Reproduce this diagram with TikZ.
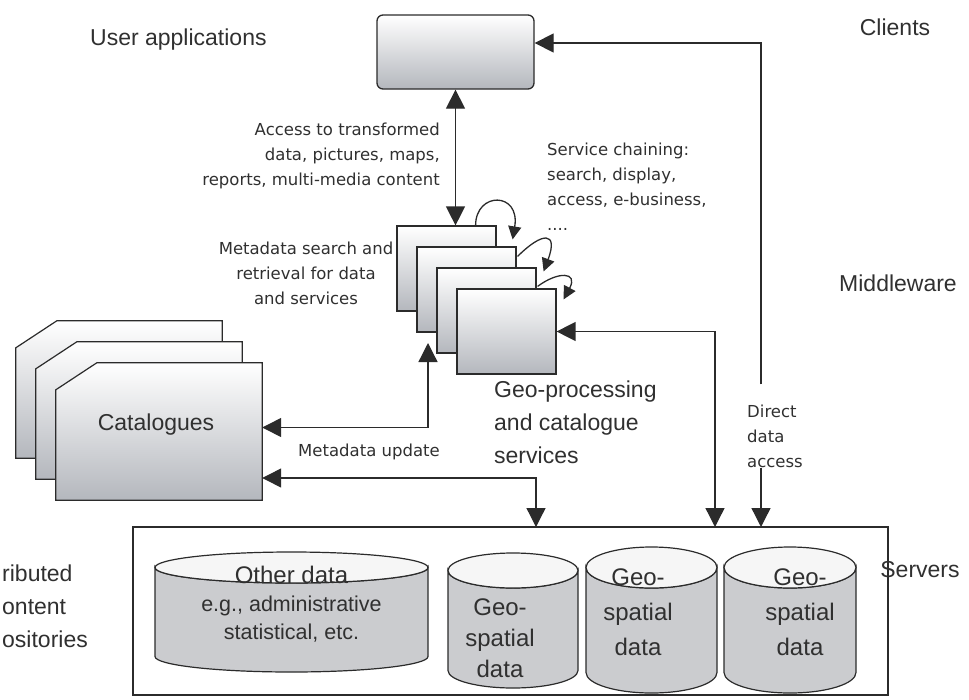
\documentclass[tikz,border=0pt]{standalone}
\usepackage{fontspec}
\setmainfont{Liberation Sans}
\newfontfamily\notefont{DejaVu Sans}
\usetikzlibrary{arrows.meta,positioning}

\definecolor{linegray}{HTML}{2B2B2B}
\definecolor{boxgray}{HTML}{B4B7BD}
\definecolor{drumgray}{HTML}{CBCCCF}
\definecolor{textgray}{HTML}{303030}

% data store: centre x, top y, bottom y, x radius, y radius
\newcommand{\dbdrum}[5]{%
  \filldraw[drumbody] (#1-#4,#2) -- (#1-#4,#3) arc[start angle=180,end angle=0,x radius=#4,y radius=#5] -- (#1+#4,#2) arc[start angle=0,end angle=180,x radius=#4,y radius=#5] -- cycle;
  \filldraw[drumend] (#1,#2) ellipse [x radius=#4,y radius=#5];
}

\begin{document}
\begin{tikzpicture}[x=1pt,y=-1pt]
\tikzstyle{arrow} = [linegray,line width=1.3pt,-{Triangle[length=19pt,width=19pt]}]
\tikzstyle{darrow} = [linegray,line width=1.3pt,{Triangle[length=19pt,width=19pt]}-{Triangle[length=19pt,width=19pt]}]
\tikzstyle{chainarrow} = [linegray,line width=1.3pt,-{Triangle[length=13pt,width=13pt]}]
\tikzstyle{appbox} = [draw=linegray,line width=1.3pt,rounded corners=6pt,top color=white,bottom color=boxgray,minimum width=157pt,minimum height=74pt]
\tikzstyle{svc} = [draw=linegray,line width=1.2pt,top color=white,bottom color=boxgray,minimum width=99pt,minimum height=85pt,inner sep=0]
\tikzstyle{catbox} = [minimum width=206pt,minimum height=137pt,inner sep=0]
\tikzstyle{catfill} = [draw=linegray,line width=1.2pt,top color=white,bottom color=boxgray]
\tikzstyle{drumbody} = [draw=linegray,line width=1.2pt,fill=drumgray]
\tikzstyle{drumend} = [draw=linegray,line width=1.2pt,fill=gray!7]
\tikzstyle{lbl} = [inner sep=0,text=textgray,font=\fontsize{23}{33}\selectfont]
\tikzstyle{note} = [inner sep=0,text=textgray,font=\notefont\fontsize{16.5}{25}\selectfont]

\useasboundingbox (0,0) rectangle (969,699);

% clients
\node(app)[appbox] at (455.5,52) {};
\node(apps)[lbl, anchor=west] at (90,40) {User applications};
\node(clients)[lbl] at (895,27) {Clients};

% middleware
\node(s1)[svc] at (446.5,268.5) {};
\node(s2)[svc, xshift=20pt, yshift=-21pt] at (s1) {};
\node(s3)[svc, xshift=20pt, yshift=-21pt] at (s2) {};
\node(s4)[svc, xshift=20pt, yshift=-21pt] at (s3) {};
\node(middle)[lbl] at (898,283) {Middleware};
\node(geoproc)[lbl, anchor=west, align=left] at (494,422) {Geo-processing\\and catalogue\\services};

\node(cat3)[catbox] at (119,389.5) {};
\node(cat2)[catbox, xshift=20pt, yshift=-21pt] at (cat3) {};
\node(cat1)[catbox, xshift=20pt, yshift=-21pt] at (cat2) {};
\foreach \c in {cat3,cat2,cat1}
  \path[catfill] (\c.south west) -- ([yshift=-27pt]\c.north west) -- ([xshift=41pt]\c.north west) -- (\c.north east) -- (\c.south east) -- cycle;
\node(catname)[lbl] at ([xshift=-3pt,yshift=7pt]cat1.center) {Catalogues};

\node(access)[note, anchor=east, align=right] at (440,156) {Access to transformed\\data, pictures, maps,\\reports, multi-media content};
\node(chain)[note, anchor=west, align=left] at (547,187) {Service chaining:\\search, display,\\access, e-business,\\....};
\node(search)[note, align=center] at (306,273) {Metadata search and\\retrieval for data\\and services};
\node(update)[note] at (369,452) {Metadata update};
\node(direct)[note, anchor=west, align=left] at (747,436) {Direct\\data\\access};

% servers
\node(srv)[draw=linegray, line width=1.2pt, minimum width=755pt, minimum height=168pt] at (510.5,611) {};
\node(servers)[lbl] at (920,570) {Servers};
\node(repos)[lbl, anchor=west, align=left] at (2,606) {ributed\\ontent\\ositories};

\dbdrum{291.5}{567.5}{656.5}{136.5}{15.5}
\dbdrum{513}{570.5}{670.5}{65}{17.5}
\dbdrum{651.5}{567.5}{672.5}{65.5}{20.5}
\dbdrum{790}{567.5}{672.5}{66}{20.5}

\node(othert)[lbl, font=\fontsize{24}{33}\selectfont] at (291.5,575) {Other data};
\node(otherd)[lbl, align=center, font=\fontsize{21.5}{28}\selectfont] at (291.5,619) {e.g., administrative\\statistical, etc.};
\node(g1t)[lbl, align=center, font=\fontsize{24}{31}\selectfont] at (500,638) {Geo-\\spatial\\data};
\node(g2t)[lbl, align=center, font=\fontsize{24}{35}\selectfont] at (638,612) {Geo-\\spatial\\data};
\node(g3t)[lbl, align=center, font=\fontsize{24}{35}\selectfont] at (800,612) {Geo-\\spatial\\data};

% connectors
\coordinate (in1) at (536,527);
\coordinate (in2) at (715,527);
\coordinate (in3) at (761,527);
\coordinate (upin) at (428,343);
\coordinate (mu) at (0,478);
\path (direct.north -| in3) ++(0,-20) coordinate (dtop);

\draw [darrow] (app.south) -- (app.south |- s1.north);
\draw [arrow] (dtop) |- ([yshift=9pt]app.east);
\draw [arrow] (direct.south -| in3) -- (in3);
\draw [darrow] (s4.east) -| (in2);
\draw [darrow] ([yshift=4pt]cat1.east) -| (upin);
\draw [darrow] (cat1.east |- mu) -| (in1);

\draw [chainarrow] ([xshift=-21pt]s1.north east) .. controls +(0,-34) and +(8,-48) .. ([xshift=16pt,yshift=-14pt]s1.north east);
\draw [chainarrow] ([xshift=1pt,yshift=-10pt]s2.north east) .. controls +(25,-25) and +(15,-40) .. ([xshift=27pt,yshift=-25pt]s2.north east);
\draw [chainarrow] ([xshift=1pt,yshift=-19pt]s3.north east) .. controls +(20,-15) and +(15,-28) .. ([xshift=27pt,yshift=-32pt]s3.north east);
\end{tikzpicture}
\end{document}
